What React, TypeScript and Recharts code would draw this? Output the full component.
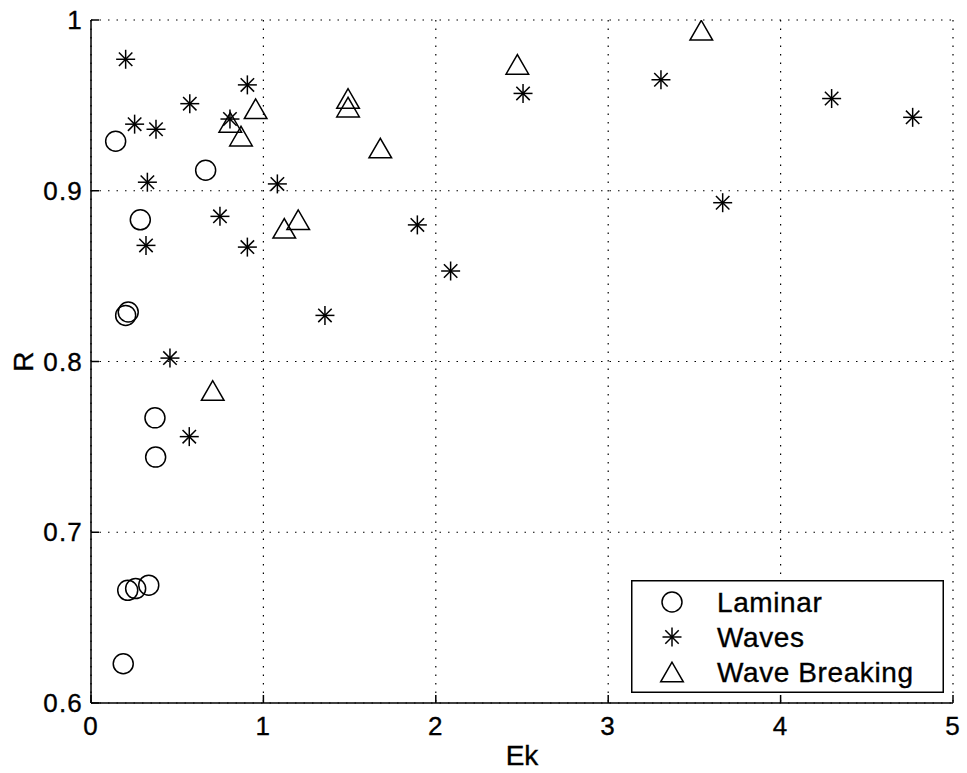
import React from 'react';
import {
  ScatterChart,
  Scatter,
  XAxis,
  YAxis,
  CartesianGrid,
  Legend,
} from 'recharts';

const laminarEk = [0.143, 0.665, 0.286, 0.201, 0.216, 0.371, 0.375, 0.213, 0.259, 0.335, 0.187];
const laminarR = [0.929, 0.912, 0.883, 0.827, 0.829, 0.767, 0.744, 0.666, 0.667, 0.669, 0.623];

const wavesEk = [
  0.201, 0.907, 0.573, 0.806, 0.253, 0.377, 0.327, 1.081, 0.748, 0.319, 0.907,
  0.458, 0.57, 1.357, 2.506, 3.306, 1.893, 2.086, 4.296, 4.766, 3.664,
];
const wavesR = [
  0.977, 0.962, 0.951, 0.942, 0.939, 0.936, 0.905, 0.904, 0.885, 0.868, 0.867,
  0.802, 0.756, 0.827, 0.957, 0.965, 0.88, 0.853, 0.954, 0.943, 0.893,
];

const breakingEk = [0.955, 0.808, 0.87, 1.121, 1.202, 1.491, 1.491, 0.706, 1.678, 2.473, 3.54];
const breakingR = [0.948, 0.94, 0.932, 0.878, 0.883, 0.954, 0.949, 0.783, 0.925, 0.974, 0.994];

const xTicks = [0, 1, 2, 3, 4, 5];
const yTicks = [0.6, 0.7, 0.8, 0.9, 1];

const toPoints = (xs: number[], ys: number[]) => xs.map((x, i) => ({ ek: x, r: ys[i] }));

const FONT = '"Liberation Sans", Arial, Helvetica, sans-serif';
const SW = 1.5;

function CircleMark({ cx, cy }: any) {
  return <circle cx={cx} cy={cy} r={10} fill="none" stroke="#000" strokeWidth={SW} />;
}

function StarMark({ cx, cy }: any) {
  const a = 9.5;
  const d = a * 0.7071;
  return (
    <g stroke="#000" strokeWidth={SW}>
      <line x1={cx - a} y1={cy} x2={cx + a} y2={cy} />
      <line x1={cx} y1={cy - a} x2={cx} y2={cy + a} />
      <line x1={cx - d} y1={cy - d} x2={cx + d} y2={cy + d} />
      <line x1={cx - d} y1={cy + d} x2={cx + d} y2={cy - d} />
      <circle cx={cx} cy={cy} r={1.6} fill="#000" stroke="none" />
    </g>
  );
}

function TriangleMark({ cx, cy }: any) {
  const w = 11.3;
  const h = 9.8;
  return (
    <polygon
      points={`${cx},${cy - h} ${cx - w},${cy + h} ${cx + w},${cy + h}`}
      fill="none"
      stroke="#000"
      strokeWidth={SW}
    />
  );
}

const legendItems = [
  { name: 'Laminar', Mark: CircleMark },
  { name: 'Waves', Mark: StarMark },
  { name: 'Wave Breaking', Mark: TriangleMark },
];

// MATLAB-style boxed legend in the lower right
function LegendBox() {
  return (
    <svg width={313} height={113} style={{ display: 'block' }}>
      <rect x={0.75} y={0.75} width={311.5} height={111.5} fill="#fff" stroke="#000" strokeWidth={SW} />
      {legendItems.map((it, i) => (
        <g key={it.name}>
          <it.Mark cx={41} cy={22 + i * 35} />
          <text
            x={86}
            y={22 + i * 35 + 10}
            fontFamily={FONT}
            fontSize={28}
            letterSpacing={0.6}
            fill="#000"
            stroke="#000"
            strokeWidth={0.35}
          >
            {it.name}
          </text>
        </g>
      ))}
    </svg>
  );
}

function RLabel({ viewBox }: any) {
  const cy = viewBox.y + viewBox.height / 2;
  return (
    <text
      x={23}
      y={cy}
      transform={`rotate(-90, 23, ${cy})`}
      textAnchor="middle"
      dominantBaseline="central"
      fontFamily={FONT}
      fontSize={28}
      fill="#000"
      stroke="#000"
      strokeWidth={0.35}
    >
      R
    </text>
  );
}

function EkLabel({ viewBox }: any) {
  const cx = viewBox.x + viewBox.width / 2;
  return (
    <text
      x={cx}
      y={765}
      textAnchor="middle"
      fontFamily={FONT}
      fontSize={28}
      fill="#000"
      stroke="#000"
      strokeWidth={0.35}
    >
      Ek
    </text>
  );
}

const tickStyle = {
  fontSize: 26,
  fill: '#000',
  fontFamily: FONT,
  letterSpacing: 1.2,
  stroke: '#000',
  strokeWidth: 0.35,
};
const axisLine = { stroke: '#000', strokeWidth: SW };

export default function App() {
  return (
    <div style={{ position: 'absolute', left: 0, top: 0, width: 967, height: 773, background: '#fff' }}>
      <ScatterChart
        width={967}
        height={773}
        margin={{ top: 20, right: 14, bottom: 0, left: 0 }}
      >
        <CartesianGrid stroke="#000" strokeWidth={1.2} strokeDasharray="1.5 7" />
        <XAxis
          type="number"
          dataKey="ek"
          domain={[0, 5]}
          ticks={xTicks}
          allowDataOverflow
          height={70}
          axisLine={axisLine}
          tickLine={axisLine}
          tickSize={-8}
          tickMargin={22}
          tick={tickStyle}
          label={<EkLabel />}
        />
        <XAxis
          xAxisId="top"
          orientation="top"
          type="number"
          dataKey="ek"
          domain={[0, 5]}
          ticks={xTicks}
          allowDataOverflow
          height={0}
          axisLine={axisLine}
          tickLine={axisLine}
          tickSize={-8}
          tick={false}
        />
        <YAxis
          type="number"
          dataKey="r"
          domain={[0.6, 1]}
          ticks={yTicks}
          allowDataOverflow
          width={91}
          axisLine={axisLine}
          tickLine={axisLine}
          tickSize={-8}
          tickMargin={16}
          tick={tickStyle}
          tickFormatter={(v: number) => (v === 1 ? '1' : String(v))}
          label={<RLabel />}
        />
        <YAxis
          yAxisId="right"
          orientation="right"
          type="number"
          dataKey="r"
          domain={[0.6, 1]}
          ticks={yTicks}
          allowDataOverflow
          width={0}
          axisLine={axisLine}
          tickLine={axisLine}
          tickSize={-8}
          tick={false}
        />
        <Scatter
          name="Laminar"
          data={toPoints(laminarEk, laminarR)}
          shape={<CircleMark />}
          isAnimationActive={false}
        />
        <Scatter
          name="Waves"
          data={toPoints(wavesEk, wavesR)}
          shape={<StarMark />}
          isAnimationActive={false}
        />
        <Scatter
          name="Wave Breaking"
          data={toPoints(breakingEk, breakingR)}
          shape={<TriangleMark />}
          isAnimationActive={false}
        />
        <Legend
          layout="vertical"
          align="center"
          verticalAlign="middle"
          content={<LegendBox />}
          wrapperStyle={{ position: 'absolute', left: 631, top: 580, width: 313, height: 113 }}
        />
      </ScatterChart>
    </div>
  );
}
